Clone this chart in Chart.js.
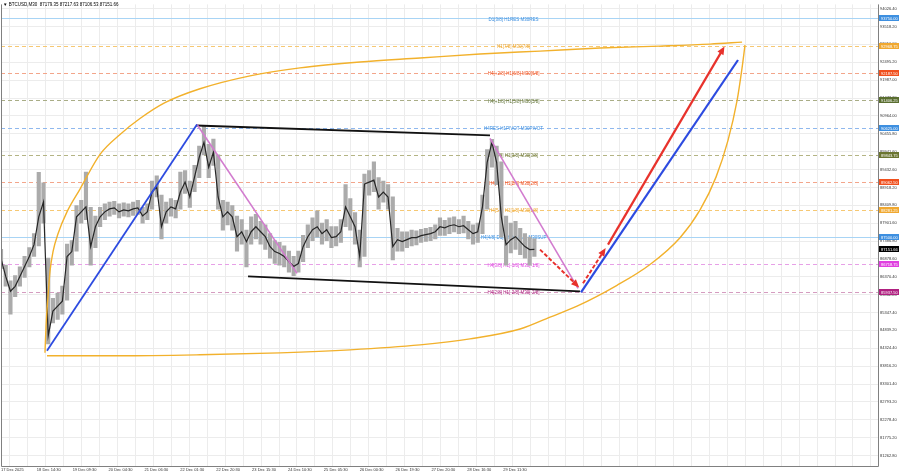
<!DOCTYPE html>
<html>
<head>
<meta charset="utf-8">
<script src="https://cdn.jsdelivr.net/npm/chart.js@4.4.1/dist/chart.umd.min.js"></script>
<style>
html, body { margin: 0; padding: 0; background: #fff; }
#wrap { width: 900px; height: 474px; position: relative; }
</style>
</head>
<body>
<div id="wrap"><canvas id="chart"></canvas></div>
<script>
const TITLE = '\u25BC BTCUSD,M30  87179.35 87217.63 87106.53 87151.66';
const LAST_PRICE = 87151.66;

// M30 bar index of each sample (every 5th bar)
const BARS = [0, 5, 10, 15, 20, 25, 30, 35, 40, 45,
  50, 55, 60, 65, 70, 75, 80, 85, 90, 95,
  100, 105, 110, 115, 120, 125, 130, 135, 140, 145,
  150, 155, 160, 165, 170, 175, 180, 185, 190, 195,
  200, 205, 210, 215, 220, 225, 230, 235, 240, 245,
  250, 255, 260, 265, 270, 275, 280, 285, 290, 295,
  300, 305, 310, 315, 320, 325, 330, 335, 340, 345,
  350, 355, 360, 365, 370, 375, 380, 385, 390, 395,
  400, 405, 410, 415, 420, 425, 430, 435, 440, 445,
  450, 455, 460, 465, 470, 475, 480, 485, 490, 495,
  500, 505, 510, 515, 520, 525, 530, 535, 540, 545,
  550, 555, 560, 565];

const CLOSES = [86889, 86379, 85954, 86095, 86379, 86662, 86946, 87286, 88080, 88505,
  84678, 85387, 85529, 85670, 86946, 87088, 88080, 88222, 88363, 87229,
  87797, 88080, 88222, 88307, 88335, 88222, 88278, 88250, 88307, 88335,
  88108, 88222, 88789, 88930, 87797, 88222, 88363, 88307, 88789, 89072,
  88647, 89214, 89781, 90206, 89498, 89923, 88647, 88080, 88222, 88080,
  87513, 87655, 87371, 87655, 87797, 87655, 87513, 87229, 87088, 87031,
  86946, 86804, 86662, 86747, 87229, 87513, 87712, 87797, 87599, 87712,
  87485, 87513, 87655, 88363, 88080, 87797, 86946, 89016, 89072, 89129,
  88647, 88789, 88647, 87229, 87428, 87371, 87428, 87485, 87485, 87542,
  87570, 87599, 87655, 87797, 87768, 87825, 87853, 87797, 87825, 87712,
  87599, 87655, 88363, 89639, 90206, 89639, 88080, 87286, 87428, 87513,
  87371, 87229, 87145, 87151.66];

const HIGHS = [87150, 86700, 86250, 86400, 86650, 86950, 87200, 87600, 89350, 89050,
  86900, 85750, 85900, 86100, 87300, 87400, 88400, 88550, 89356, 88350,
  88100, 88350, 88450, 88500, 88520, 88450, 88480, 88450, 88500, 88550,
  88350, 88450, 89100, 89250, 88700, 88500, 88600, 88550, 89360, 89400,
  89100, 89550, 90100, 90690, 90150, 90300, 89850, 88550, 88500, 88400,
  88100, 88000, 87700, 88080, 88150, 87950, 87850, 87600, 87400, 87350,
  87250, 87100, 86950, 87100, 87550, 87850, 88050, 88250, 87900, 88000,
  87800, 87800, 88000, 89000, 88600, 88200, 87700, 89300, 89400, 89650,
  89200, 89100, 89000, 88650, 87750, 87650, 87650, 87700, 87680, 87720,
  87750, 87780, 87850, 88050, 87980, 88050, 88080, 88000, 88100, 87950,
  87850, 87900, 88700, 90000, 90290, 90100, 89650, 88100, 87900, 87950,
  87750, 87600, 87500, 87450];

const LOWS = [86600, 86100, 85300, 85800, 86100, 86350, 86650, 86950, 87250, 87900,
  84450, 85050, 85150, 85300, 85700, 86700, 87100, 87900, 88000, 86700,
  87200, 87800, 88000, 88100, 88150, 88050, 88100, 88080, 88120, 88150,
  87900, 88000, 88300, 88650, 87450, 87900, 88100, 88050, 88300, 88750,
  88350, 88800, 89200, 89850, 89200, 89550, 88300, 87700, 87850, 87700,
  87100, 87300, 86650, 87300, 87450, 87300, 87150, 86900, 86750, 86700,
  86650, 86500, 86400, 86500, 86800, 87200, 87400, 87500, 87300, 87400,
  87200, 87250, 87350, 87800, 87700, 87300, 86650, 86950, 88700, 88800,
  88300, 88500, 88300, 86850, 87100, 87100, 87200, 87250, 87280, 87350,
  87380, 87400, 87450, 87550, 87550, 87600, 87650, 87600, 87620, 87450,
  87300, 87350, 87600, 88300, 89500, 89000, 87500, 86700, 87050, 87150,
  87000, 86900, 86700, 86950];

// time axis labels, one every 38 bars
const X_LABELS = ['17 Dec 2025', '18 Dec 14:30', '19 Dec 09:30', '20 Dec 04:30', '21 Dec 06:30',
  '22 Dec 01:30', '22 Dec 20:30', '23 Dec 15:30', '24 Dec 10:30', '25 Dec 05:30',
  '26 Dec 00:30', '26 Dec 19:30', '27 Dec 20:30', '28 Dec 16:30', '29 Dec 11:30'];

const Y_TICKS = [94026.40, 93518.20, 93010.00, 92495.20, 91987.00, 91472.20, 90964.00,
  90455.80, 89941.60, 89432.60, 88918.20, 88409.80, 87901.60, 87386.80, 86878.60,
  86370.40, 85862.20, 85347.40, 84839.20, 84324.40, 83816.20, 83301.40, 82793.20,
  82278.40, 81775.20, 81262.80];

// murrey math levels
const LEVEL_VALUES = [93750, 92968.75, 92187.5, 91406.25, 90625, 89843.75, 89062.5,
  88281.25, 87500, 86718.75, 85937.5];
const LEVEL_NAMES = ['D1[3/8] H1RES M30RES', 'H1[7/8] M30[7/8]', 'H4[+2/8] H1[6/8] M30[6/8]',
  'H4[+1/8] H1[5/8] M30[5/8]', 'H4RES H1PIVOT M30PIVOT', 'H4[7/8] H1[3/8] M30[3/8]',
  'H4[6/8] H1[2/8] M30[2/8]', 'H4[5/8] H1[1/8] M30[1/8]', 'H4[4/8] D1[2/8] H1SUP M30SUP',
  'H4[3/8] H1[-1/8] M30[-1/8]', 'H4[2/8] H1[-2/8] M30[-2/8]'];

// hand drawn objects (bar index, price)
const BLUE1_BARS = [48.7, 207.6];   const BLUE1_PRICES = [84253, 90717];
const PINK1_BARS = [207.6, 313.6];  const PINK1_PRICES = [90717, 86464];
const PINK2_BARS = [518, 611.2];    const PINK2_PRICES = [90320, 86039];
const TOP_BARS = [206.6, 518];      const TOP_PRICES = [90688, 90405];
const BOTTOM_BARS = [261.7, 613.3]; const BOTTOM_PRICES = [86379, 85954];
const BLUE2_BARS = [614.4, 780.7];  const BLUE2_PRICES = [85925, 92559];
const RED_DOWN_BARS = [571, 610.2]; const RED_DOWN_PRICES = [87144, 86124];
const RED_UP_BARS = [616.5, 638.8]; const RED_UP_PRICES = [86181, 87116];
const RED_BARS = [643, 764.8];      const RED_PRICES = [87286, 92871];

const ARC_TOP_BARS = [46.6, 47.7, 49.8, 51.9, 55.1, 60.4, 69.9, 83.7, 104.9, 126.1, 147.2,
  173.7, 210.8, 263.8, 316.7, 380.3, 443.9, 507.4, 571, 634.5, 698.1, 751.1, 785];
const ARC_TOP_PRICES = [84196, 84961, 85812, 86521, 87088, 87598, 88222, 88874, 89866, 90433,
  90887, 91340, 91737, 92106, 92333, 92503, 92616, 92729, 92814, 92900, 92956, 93013, 93070];
const ARC_LOW_BARS = [48.7, 126.1, 210.8, 295.6, 369.7, 443.9, 496.8, 549.8, 581.6, 610.2,
  652.5, 687.5, 719.3, 740.5, 757.4, 770.1, 779.7, 785, 788.1];
const ARC_LOW_PRICES = [84111, 84111, 84140, 84196, 84281, 84423, 84593, 84876, 85217, 85529,
  86124, 86719, 87485, 88278, 89214, 90263, 91397, 92333, 92985];

// styles
const LEVEL_LINE = ['#a8d4f5', '#f6c873', '#f3a58a', '#a9ad86', '#8fb8ee', '#b4b484',
  '#f3a58a', '#f6c873', '#a8d4f5', '#e7a0e7', '#d59cc0'];
const LEVEL_SOLID = [true, false, false, false, false, false, false, false, true, false, false];
const LEVEL_BOX = ['#3d8fe0', '#f0a830', '#f0501e', '#5a6e30', '#3d8fe0', '#6b7530',
  '#f0501e', '#f0a830', '#3d8fe0', '#e040e0', '#b02080'];
const LABEL_BAR = 543;
const FONT = '"Liberation Sans", Arial, sans-serif';

Chart.defaults.font.family = FONT;
Chart.defaults.font.size = 4;
Chart.defaults.color = '#333';

function pts(bars, prices) {
  return bars.map((b, i) => ({ x: b, y: prices[i] }));
}

function seg(bars, prices, color, width, extra) {
  return Object.assign({
    type: 'line', data: pts(bars, prices), borderColor: color, borderWidth: width,
    pointRadius: 0, fill: false, tension: 0, order: 2
  }, extra || {});
}

const mt4Plugin = {
  id: 'mt4',
  beforeDatasetsDraw(chart) {
    const { ctx, chartArea: a, scales: { x, y } } = chart;
    ctx.save();
    LEVEL_VALUES.forEach((v, i) => {
      const py = Math.round(y.getPixelForValue(v)) + 0.5;
      ctx.strokeStyle = LEVEL_LINE[i];
      ctx.lineWidth = 1;
      ctx.setLineDash(LEVEL_SOLID[i] ? [] : [4, 3]);
      ctx.beginPath();
      ctx.moveTo(a.left, py);
      ctx.lineTo(a.right, py);
      ctx.stroke();
    });
    ctx.setLineDash([]);
    ctx.font = '4.5px ' + FONT;
    ctx.textAlign = 'center';
    ctx.textBaseline = 'middle';
    const lx = x.getPixelForValue(LABEL_BAR);
    LEVEL_NAMES.forEach((t, i) => {
      ctx.fillStyle = LEVEL_BOX[i];
      ctx.fillText(t, lx, y.getPixelForValue(LEVEL_VALUES[i]) + 1);
    });
    ctx.restore();
  },
  afterDatasetsDraw(chart) {
    const ctx = chart.ctx;
    chart.data.datasets.forEach((ds, i) => {
      if (!ds.arrow) return;
      const els = chart.getDatasetMeta(i).data;
      const p1 = els[els.length - 2], p2 = els[els.length - 1];
      const ang = Math.atan2(p2.y - p1.y, p2.x - p1.x);
      ctx.save();
      ctx.translate(p2.x, p2.y);
      ctx.rotate(ang);
      ctx.fillStyle = ds.borderColor;
      ctx.beginPath();
      ctx.moveTo(3, 0);
      ctx.lineTo(-5, -3.5);
      ctx.lineTo(-5, 3.5);
      ctx.closePath();
      ctx.fill();
      ctx.restore();
    });
  },
  afterDraw(chart) {
    const { ctx, chartArea: a, scales: { y } } = chart;
    ctx.save();
    ctx.strokeStyle = '#808080';
    ctx.lineWidth = 1;
    ctx.beginPath();
    ctx.moveTo(a.left + 0.5, a.top);
    ctx.lineTo(a.left + 0.5, a.bottom + 0.5);
    ctx.lineTo(a.right + 0.5, a.bottom + 0.5);
    ctx.lineTo(a.right + 0.5, a.top);
    ctx.stroke();
    ctx.font = '4px ' + FONT;
    ctx.textBaseline = 'middle';
    ctx.textAlign = 'left';
    const box = (v, fill) => {
      const py = Math.round(y.getPixelForValue(v));
      ctx.fillStyle = fill;
      ctx.fillRect(a.right + 1, py - 3, 20, 6);
      ctx.fillStyle = '#fff';
      ctx.fillText(v.toFixed(2), a.right + 3, py + 0.5);
    };
    LEVEL_VALUES.forEach((v, i) => box(v, LEVEL_BOX[i]));
    box(LAST_PRICE, '#000');
    ctx.fillStyle = '#000';
    ctx.font = '4.5px ' + FONT;
    ctx.fillText(TITLE, 3, 5);
    ctx.restore();
  }
};

new Chart(document.getElementById('chart'), {
  type: 'line',
  data: {
    datasets: [
      seg(RED_BARS, RED_PRICES, '#e8322c', 2.2, { arrow: true, order: 0 }),
      seg(RED_UP_BARS, RED_UP_PRICES, '#e8322c', 2, { arrow: true, borderDash: [4, 2], order: 0 }),
      seg(RED_DOWN_BARS, RED_DOWN_PRICES, '#e8322c', 2, { arrow: true, borderDash: [4, 2], order: 0 }),
      seg(BLUE2_BARS, BLUE2_PRICES, '#2d4be0', 2.2),
      seg(BLUE1_BARS, BLUE1_PRICES, '#2d4be0', 1.8),
      seg(PINK1_BARS, PINK1_PRICES, '#d27ccf', 1.6),
      seg(PINK2_BARS, PINK2_PRICES, '#d27ccf', 1.6),
      seg(TOP_BARS, TOP_PRICES, '#111', 1.8),
      seg(BOTTOM_BARS, BOTTOM_PRICES, '#111', 1.8),
      seg(ARC_TOP_BARS, ARC_TOP_PRICES, '#f2b12c', 1.4, { cubicInterpolationMode: 'monotone', order: 3 }),
      seg(ARC_LOW_BARS, ARC_LOW_PRICES, '#f2b12c', 1.4, { cubicInterpolationMode: 'monotone', order: 3 }),
      {
        type: 'line', order: 9,
        data: pts(BARS, CLOSES),
        borderColor: '#262626', borderWidth: 1.2, pointRadius: 0, tension: 0
      },
      {
        type: 'bar', order: 10,
        data: BARS.map((b, i) => ({ x: b, y: [LOWS[i], HIGHS[i]] })),
        backgroundColor: '#ababab', barThickness: 3.5
      }
    ]
  },
  options: {
    responsive: true,
    maintainAspectRatio: false,
    animation: false,
    layout: { padding: { left: 1, top: 1, right: 0, bottom: 0 } },
    plugins: { legend: { display: false }, tooltip: { enabled: false } },
    scales: {
      x: {
        type: 'linear', min: 0, max: 929, offset: false,
        afterFit: s => { s.height = 8; },
        afterBuildTicks: s => {
          const t = [];
          for (let v = 0; v <= s.max; v += 19) t.push({ value: v });
          s.ticks = t;
        },
        ticks: {
          autoSkip: false, maxRotation: 0, align: 'start', padding: 1,
          callback: v => (v % 38 === 0 && X_LABELS[v / 38]) ? X_LABELS[v / 38] : ''
        },
        grid: { color: '#ececec', drawTicks: false },
        border: { display: false }
      },
      y: {
        position: 'right', min: 80964, max: 94147,
        afterFit: s => { s.width = 22; },
        afterBuildTicks: s => { s.ticks = Y_TICKS.map(v => ({ value: v })); },
        ticks: { padding: 2, callback: v => v.toFixed(2) },
        grid: { color: '#ececec', drawTicks: false },
        border: { display: false }
      }
    }
  },
  plugins: [mt4Plugin]
});
</script>
</body>
</html>
